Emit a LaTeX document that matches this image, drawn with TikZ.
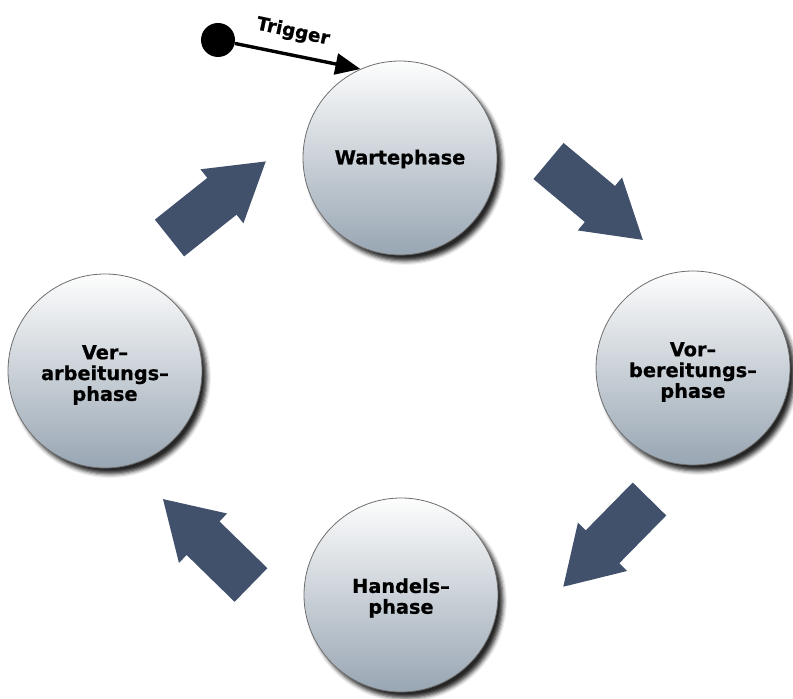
\documentclass[tikz,border=0pt]{standalone}
\usepackage{fontspec}
\setmainfont{DejaVu Sans}[BoldFeatures={FakeBold=0.8}]
\usetikzlibrary{arrows.meta,shadows.blur}

\definecolor{phasetop}{HTML}{FDFDFD}
\definecolor{phasemid}{HTML}{DDE2E6}
\definecolor{phasebot}{HTML}{98A6B3}
\definecolor{phaseline}{HTML}{6E6E6E}
\definecolor{flowblue}{HTML}{41506B}

\tikzset{
  phase/.style={circle, inner sep=0pt, minimum size=194pt,
    draw=phaseline, line width=0.8pt,
    top color=phasetop, middle color=phasemid, bottom color=phasebot,
    blur shadow={shadow xshift=5pt, shadow yshift=-6pt,
      shadow blur radius=4pt, shadow opacity=85}},
  phasetext/.style={inner sep=0pt, align=center,
    font=\bfseries\fontsize{19.3}{20.8}\selectfont},
  startdot/.style={circle, fill=black, inner sep=0pt, minimum size=34pt},
  trigline/.style={line width=3.4pt, -{Triangle[length=25pt,width=21pt]}},
  triglabel/.style={font=\bfseries\fontsize{18.5}{20}\selectfont, rotate=-12},
  flowarrow/.style={fill=flowblue}
}

% block arrow: tail centre at the origin, pointing along +x
\newcommand{\blockarrow}[2]{%
  \begin{scope}[shift={(#1)}, rotate=#2]
    \fill[flowarrow] (0,23.5) -- (67,23.5) -- (67,34.5) -- (123,0)
      -- (67,-34.5) -- (67,-23.5) -- (0,-23.5) -- cycle;
  \end{scope}}

\begin{document}
\begin{tikzpicture}[x=1pt, y=1pt]
  \useasboundingbox (0,0) rectangle (793,699);

  % the four phases
  \node[phase] (warte)  at (400,541) {};
  \node[phase] (vorb)   at (693,331) {};
  \node[phase] (handel) at (401,104) {};
  \node[phase] (verarb) at (105,328) {};

  \node[phasetext] (wartetext)  at ([yshift=-1pt]warte)  {Wartephase};
  \node[phasetext] (vorbtext)   at ([yshift=-4pt]vorb)   {Vor–\\bereitungs–\\phase};
  \node[phasetext] (handeltext) at ([yshift=-3pt]handel) {Handels–\\phase};
  \node[phasetext] (verarbtext) at ([yshift=-4pt]verarb) {Ver–\\arbeitungs–\\phase};

  % cycle arrows between the phases
  \blockarrow{548.5,538}{-39.9}
  \blockarrow{649.5,200}{225.5}
  \blockarrow{251,114}{135.7}
  \blockarrow{169.5,461}{38.5}

  % trigger entering the waiting phase
  \node[startdot] (start) at (218,659) {};
  \draw[trigline] (start) -- (warte.114);
  \node[triglabel] (trig) at (293,667) {Trigger};
\end{tikzpicture}
\end{document}
